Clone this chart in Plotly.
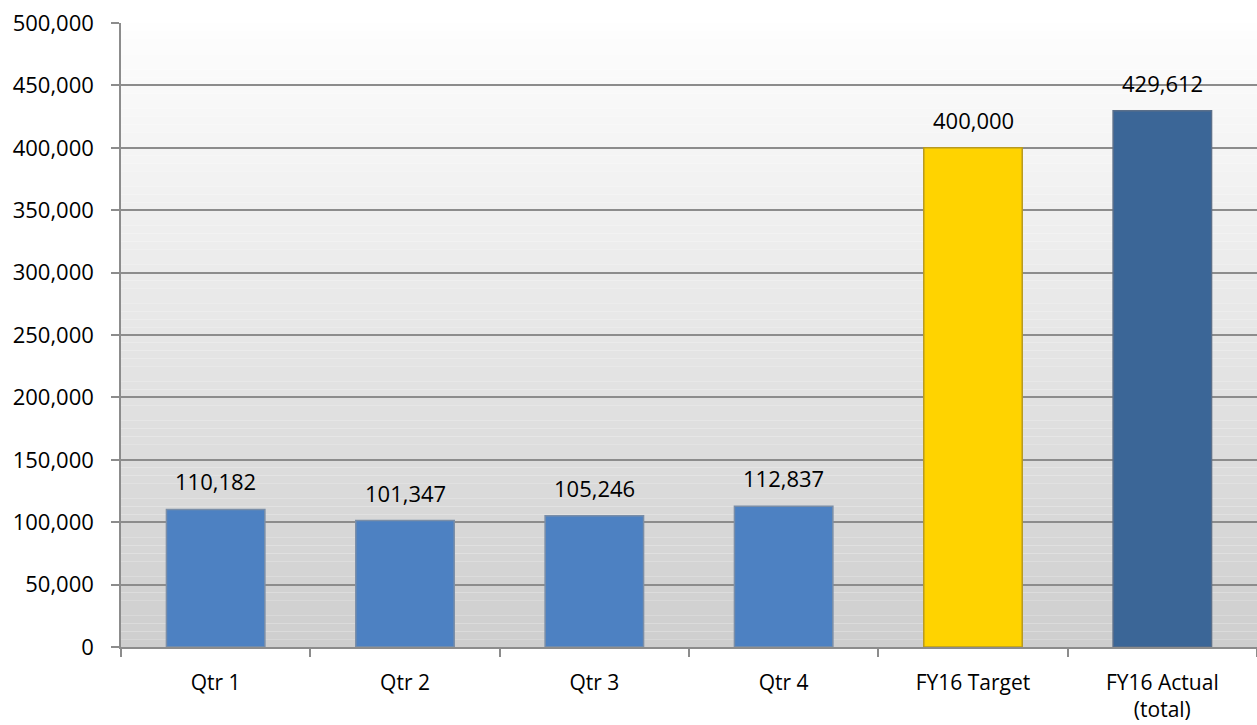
import plotly.graph_objects as go

categories = ["Qtr 1", "Qtr 2", "Qtr 3", "Qtr 4", "FY16 Target", "FY16 Actual<br>(total)"]
values = [110182, 101347, 105246, 112837, 400000, 429612]
bar_colors = ["#4d81c2", "#4d81c2", "#4d81c2", "#4d81c2", "#ffd300", "#3b6697"]
line_colors = ["#7a8ea8", "#7a8ea8", "#7a8ea8", "#7a8ea8", "#b89a20", "#5a6f8a"]
y_ticks = list(range(0, 500001, 50000))

FONT = "Open Sans"

fig = go.Figure()
fig.add_trace(go.Bar(
    x=categories,
    y=values,
    marker=dict(color=bar_colors, line=dict(color=line_colors, width=1.5)),
    width=0.52,
    hoverinfo="x+y",
))

for c, v in zip(categories, values):
    fig.add_annotation(x=c, y=v, text=f"{v:,}", showarrow=False,
                       yanchor="bottom", yshift=11,
                       font=dict(family=FONT, size=22, color="#000000"))

# gradient background of the plot area (white at top to light gray at bottom)
n = 80
shapes = []
for i in range(n):
    t = (i + 0.5) / n
    g = int(round(254 - (254 - 206) * t))
    shapes.append(dict(type="rect", xref="x domain", yref="y domain",
                       x0=0, x1=1, y0=1 - (i + 1) / n, y1=1 - i / n,
                       fillcolor=f"rgb({g},{g},{g})", line=dict(width=0), layer="below"))

fig.update_layout(
    width=1257, height=725,
    margin=dict(l=121, r=0, t=23, b=78),
    paper_bgcolor="#ffffff",
    plot_bgcolor="rgba(0,0,0,0)",
    shapes=shapes,
    showlegend=False,
    bargap=0.48,
    font=dict(family=FONT, size=22, color="#000000"),
)
fig.update_yaxes(
    range=[0, 500000],
    tickvals=y_ticks,
    ticktext=[f"{v:,}" for v in y_ticks],
    showgrid=True, gridcolor="#8c8c8c", gridwidth=1.5,
    showline=True, linecolor="#8c8c8c", linewidth=1.5,
    ticks="outside", ticklen=8, tickcolor="#8c8c8c", tickwidth=1.5,
    ticklabelstandoff=13,
    zeroline=False,
    automargin=False,
    tickfont=dict(family=FONT, size=22),
)
fig.update_xaxes(
    showline=True, linecolor="#8c8c8c", linewidth=1.5,
    ticks="outside", ticklen=8, tickcolor="#8c8c8c", tickwidth=1.5,
    tickson="boundaries",
    ticklabelstandoff=16,
    automargin=False,
    tickfont=dict(family=FONT, size=21),
)

fig.write_html("out.html", config={"displayModeBar": False},
               post_script="document.body.style.margin='0';")
